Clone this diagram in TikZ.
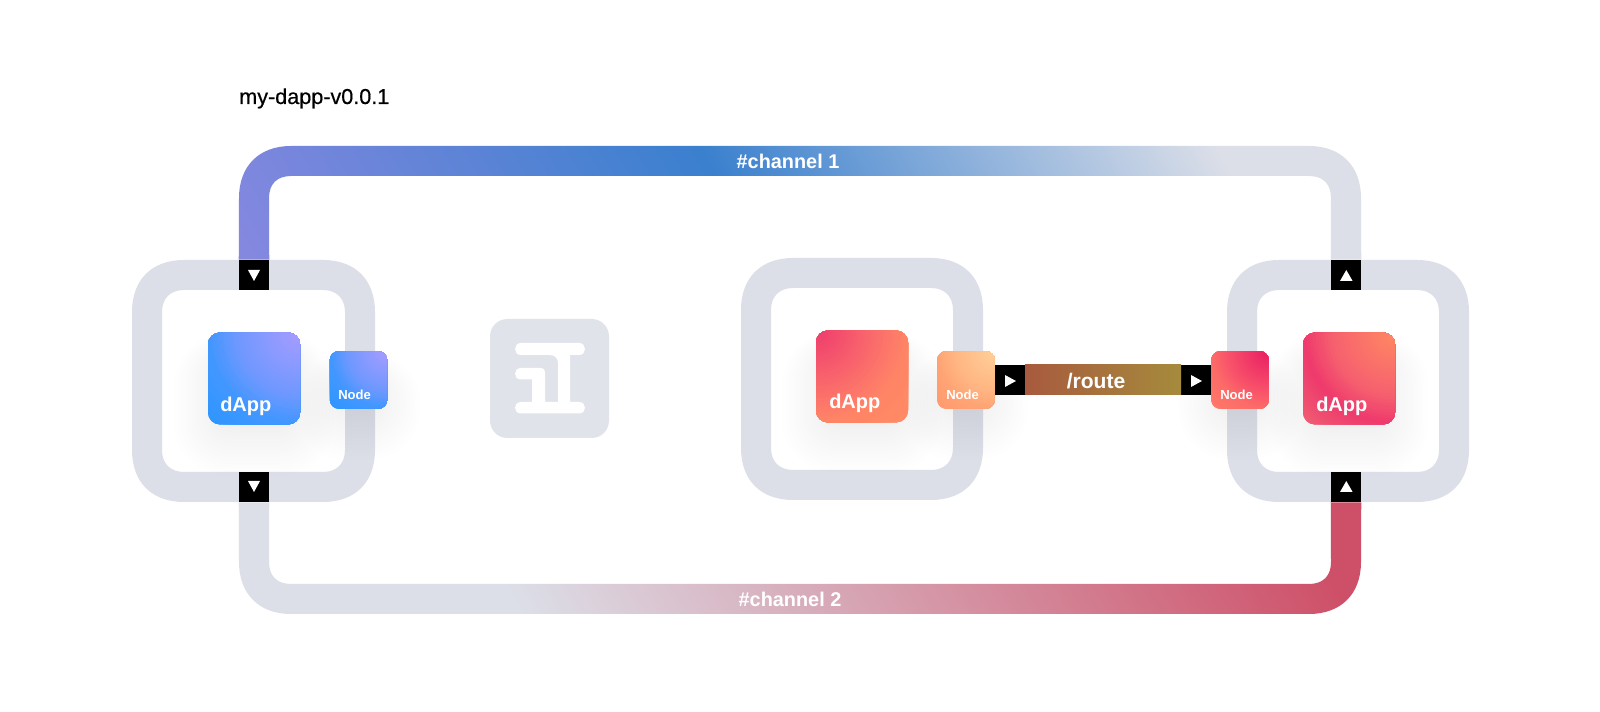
\documentclass[tikz,border=0pt]{standalone}
\usepackage{fontspec}
\setmainfont{Liberation Sans}
\newfontfamily\titlefont[FakeBold=0.45]{Liberation Sans}
\definecolor{ringgray}{HTML}{DCDFE8}
\definecolor{logogray}{HTML}{E0E3EA}
\definecolor{bA}{HTML}{A99CFF}\definecolor{bB}{HTML}{6F98FF}\definecolor{bC}{HTML}{4297FF}\definecolor{bD}{HTML}{2E96FF}
\definecolor{pA}{HTML}{FF8A62}\definecolor{pB}{HTML}{F6606E}\definecolor{pC}{HTML}{EE3A6D}\definecolor{pD}{HTML}{F05D72}
\definecolor{qA}{HTML}{E81C63}\definecolor{qB}{HTML}{F8506A}\definecolor{qC}{HTML}{FC6B68}\definecolor{qD}{HTML}{FF7A68}
\definecolor{mA}{HTML}{EE3A6E}\definecolor{mB}{HTML}{FB6F6B}\definecolor{mC}{HTML}{FF8466}\definecolor{mD}{HTML}{FF8B64}
\definecolor{nA}{HTML}{FFD09B}\definecolor{nB}{HTML}{FFB682}\definecolor{nC}{HTML}{FFA475}\definecolor{nD}{HTML}{FF996E}
\definecolor{cha}{HTML}{8888E0}\definecolor{chb}{HTML}{3A80CE}\definecolor{chr}{HTML}{CE5068}
\definecolor{rtA}{HTML}{A85A3E}\definecolor{rtB}{HTML}{A58B3C}
\pgfdeclarehorizontalshading{chanOne}{100bp}{color(0bp)=(cha);color(15bp)=(cha);color(46bp)=(chb);color(76bp)=(ringgray);color(100bp)=(ringgray)}
\pgfdeclarehorizontalshading{chanTwo}{100bp}{color(0bp)=(ringgray);color(32bp)=(ringgray);color(80bp)=(chr);color(100bp)=(chr)}
% squircle sub-path: x0,y0,x1,y1,r
\newcommand\sqp[5]{({#1+#5},#2) -- ({#3-#5},#2) .. controls ({#3-0.38*#5},#2) and (#3,{#2+0.38*#5}) .. (#3,{#2+#5}) -- (#3,{#4-#5}) .. controls (#3,{#4-0.38*#5}) and ({#3-0.38*#5},#4) .. ({#3-#5},#4) -- ({#1+#5},#4) .. controls ({#1+0.38*#5},#4) and (#1,{#4-0.38*#5}) .. (#1,{#4-#5}) -- (#1,{#2+#5}) .. controls (#1,{#2+0.38*#5}) and ({#1+0.38*#5},#2) .. ({#1+#5},#2) -- cycle}
% soft shadow below a card
\newcommand\softshade[4]{\foreach \i in {1,...,14}{\pgfmathsetmacro\rc{8+\i*2.2}\fill[black,opacity=0.0023,rounded corners=\rc pt] ({#1+14-\i*3.4},{#2+30-\i*2}) rectangle ({#3-14+\i*3.4},{#4+\i*3.6});}}
% concentric colour bands from a corner, clipped to the card
\newcommand\radbands[6]{\foreach \i in {42,41,...,1}{%
  \pgfmathsetmacro\rr{\i/30*#6}%
  \ifnum\i>30 \pgfmathsetmacro\pp{100*(\i-30)/12}\edef\col{#5!\pp!#4}%
  \else\ifnum\i>21 \pgfmathsetmacro\pp{100*(\i-21)/9}\edef\col{#4!\pp!#3}%
  \else \pgfmathsetmacro\pp{100*\i/21}\edef\col{#3!\pp!#2}\fi\fi
  \fill[color=\col] (path picture bounding box.#1) circle[radius=\rr pt];}}
\tikzset{
 ringshape/.style={fill=ringgray,even odd rule},
 portbox/.style={fill=black,inner sep=0pt,minimum size=22.5pt},
 tri/.style={fill=white},
 dappbox/.style={inner sep=0pt,minimum size=69pt,rounded corners=9pt},
 nodebox/.style={inner sep=0pt,minimum size=43pt,rounded corners=6.5pt},
 biglabel/.style={text=white,font=\fontsize{15}{15}\selectfont\bfseries,anchor=base west,inner sep=0pt},
 smalllabel/.style={text=white,font=\fontsize{9.8}{10}\selectfont\bfseries,anchor=base west,inner sep=0pt},
 chanlabel/.style={text=white,font=\fontsize{14.9}{15}\selectfont\bfseries,anchor=center,inner sep=0pt},
}
\begin{document}
\begin{tikzpicture}[x=0.75pt,y=-0.75pt]
\useasboundingbox[fill=white] (0,0) rectangle (1600,712);
\node[anchor=base west,inner sep=0pt,font=\fontsize{16.2}{17}\selectfont\titlefont] (title) at (239,104) {my-dapp-v0.0.1};
% rings
\fill[ringshape] \sqp{132}{260}{375}{502}{52} \sqp{162}{290}{345}{472}{22};
\fill[ringshape] \sqp{741}{258}{983}{500}{52} \sqp{771}{288}{953}{470}{22};
\fill[ringshape] \sqp{1227}{260}{1469}{502}{52} \sqp{1257}{290}{1439}{472}{22};
% ports
\node[portbox] (pTL) at (254,275) {};
\node[portbox] (pBL) at (254,487) {};
\node[portbox] (pTR) at (1346,275) {};
\node[portbox] (pBR) at (1346,487) {};
\node[portbox] (pRL) at (1010,380) {};
\node[portbox] (pRR) at (1196,380) {};
% channels
\shade[shading=chanOne,shading angle=30] (pTL.north west) -- (239,198) .. controls (239,166) and (259,146) .. (291,146) -- (1309,146) .. controls (1341,146) and (1361,166) .. (1361,198) -- (pTR.north east) -- (pTR.north west) -- (1331,198) .. controls (1331,184) and (1323,176) .. (1309,176) -- (291,176) .. controls (277,176) and (269,184) .. (269,198) -- (pTL.north east) -- cycle;
\shade[shading=chanTwo,shading angle=30] (pBL.south west) -- (239,562) .. controls (239,594) and (259,614) .. (291,614) -- (1309,614) .. controls (1341,614) and (1361,594) .. (1361,562) -- (pBR.south east) -- (pBR.south west) -- (1331,562) .. controls (1331,576) and (1323,584) .. (1309,584) -- (291,584) .. controls (277,584) and (269,576) .. (269,562) -- (pBL.south east) -- cycle;
\node[chanlabel] (lc1) at (788,161) {\#channel 1};
\node[chanlabel] (lc2) at (790,599) {\#channel 2};
% route
\node[inner sep=0pt,minimum width=117pt,minimum height=22.5pt,left color=rtA,right color=rtB] (route) at (1103,380) {};
\node[chanlabel,font=\fontsize{15.8}{16}\selectfont\bfseries] (lroute) at (1096,381) {/route};
% triangles
\fill[tri] (248,270) -- (260,270) -- (254,281) -- cycle;
\fill[tri] (248,481) -- (260,481) -- (254,492) -- cycle;
\fill[tri] (1340,281) -- (1352.6,281) -- (1346.3,270) -- cycle;
\fill[tri] (1340,492) -- (1352.6,492) -- (1346.3,481) -- cycle;
\fill[tri] (1005,375) -- (1016,381) -- (1005,387) -- cycle;
\fill[tri] (1191,375) -- (1202,381) -- (1191,387) -- cycle;
% logo
\node[fill=logogray,inner sep=0pt,minimum size=89.25pt,rounded corners=13pt] (logo) at (549.5,378.5) {};
\fill[white] (521,343) -- (579,343) .. controls (587,343) and (587,355) .. (579,355) -- (570,355) -- (570,402) -- (579,402) .. controls (587,402) and (587,413.5) .. (579,413.5) -- (521,413.5) .. controls (513,413.5) and (513,402) .. (521,402) -- (532,402) -- (532,379.5) -- (521,379.5) .. controls (513,379.5) and (513,368) .. (521,368) -- (540,368) .. controls (543.5,368) and (545,369.5) .. (545,373) -- (545,402) -- (558,402) -- (558,364) .. controls (558,358) and (555,355) .. (549,355) -- (521,355) .. controls (513,355) and (513,343) .. (521,343) -- cycle;
% shadows
\softshade{208}{332}{300}{425}
\softshade{330}{351}{387}{409}
\softshade{816}{330}{908}{422}
\softshade{937}{351}{995}{409}
\softshade{1303}{332}{1395}{425}
\softshade{1211}{351}{1269}{409}
% dapps and nodes
\node[dappbox,fill=bC,path picture={\radbands{north east}{bA}{bB}{bC}{bD}{69}}] (d1) at (254,378.5) {};
\node[nodebox,fill=bC,path picture={\radbands{north east}{bA}{bB}{bC}{bD}{43}}] (n1) at (358.5,380) {};
\node[dappbox,fill=mC,path picture={\radbands{north west}{mA}{mB}{mC}{mD}{69}}] (d2) at (862,376.5) {};
\node[nodebox,fill=nC,path picture={\radbands{north east}{nA}{nB}{nC}{nD}{43}}] (n2) at (966,380) {};
\node[dappbox,fill=pC,path picture={\radbands{north east}{pA}{pB}{pC}{pD}{69}}] (d3) at (1349,378.5) {};
\node[nodebox,fill=qC,path picture={\radbands{north east}{qA}{qB}{qC}{qD}{43}}] (n3) at (1240,380) {};
\node[biglabel] (ld1) at (220,411.5) {dApp};
\node[biglabel] (ld2) at (829,409) {dApp};
\node[biglabel] (ld3) at (1316,411.5) {dApp};
\node[smalllabel] (ln1) at (338,399.5) {Node};
\node[smalllabel] (ln2) at (946,399.5) {Node};
\node[smalllabel] (ln3) at (1220,399.5) {Node};
\end{tikzpicture}
\end{document}
